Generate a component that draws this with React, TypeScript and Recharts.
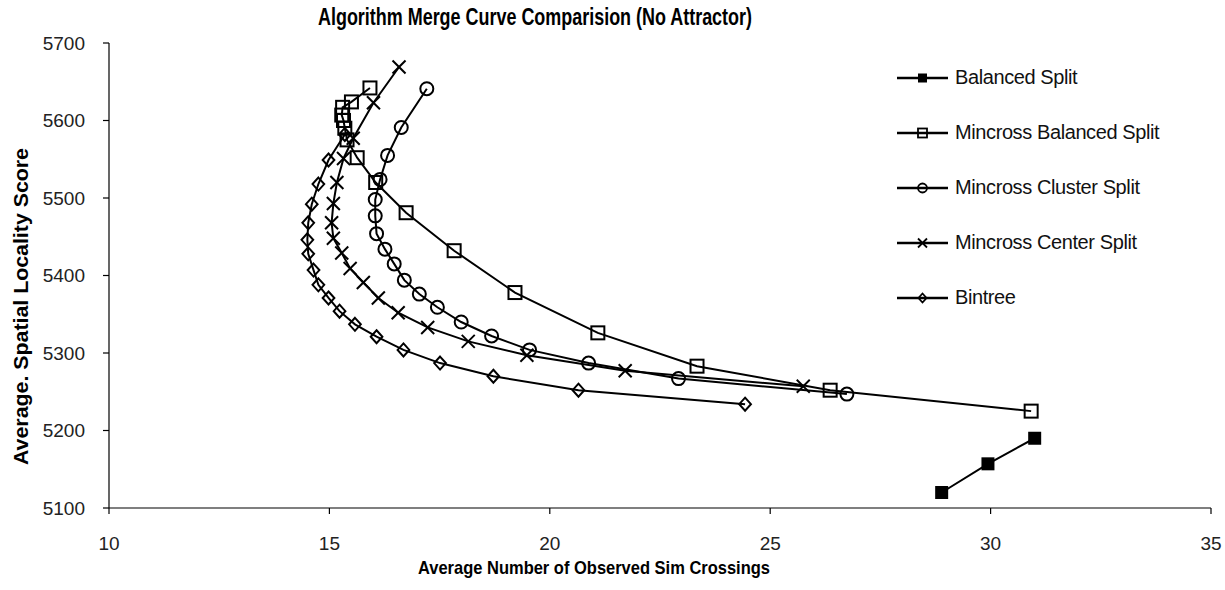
import React from 'react';
import { ScatterChart, Scatter, XAxis, YAxis, Legend } from 'recharts';

const chartTitle = 'Algorithm Merge Curve Comparision (No Attractor)';
const xAxisTitle = 'Average Number of Observed Sim Crossings';
const yAxisTitle = 'Average. Spatial Locality Score';

const xTicks = [10, 15, 20, 25, 30, 35];
const yTicks = [5100, 5200, 5300, 5400, 5500, 5600, 5700];

const seriesNames = [
  'Balanced Split',
  'Mincross Balanced Split',
  'Mincross Cluster Split',
  'Mincross Center Split',
  'Bintree',
];

const balancedX = [28.89, 29.94, 31.0];
const balancedY = [5120, 5157, 5190];

const mincrossBalancedX = [15.92, 15.5, 15.3, 15.28, 15.32, 15.35, 15.4, 15.63, 16.05, 16.74, 17.83, 19.21, 21.09, 23.34, 26.36, 30.92];
const mincrossBalancedY = [5642, 5624, 5617, 5607, 5600, 5590, 5575, 5552, 5520, 5481, 5432, 5378, 5326, 5283, 5252, 5225];

const clusterX = [17.21, 16.63, 16.32, 16.15, 16.04, 16.04, 16.07, 16.26, 16.47, 16.7, 17.04, 17.45, 17.99, 18.68, 19.54, 20.88, 22.92, 26.74];
const clusterY = [5641, 5591, 5555, 5524, 5498, 5477, 5454, 5434, 5415, 5394, 5376, 5359, 5340, 5322, 5304, 5287, 5267, 5247];

const centerX = [16.58, 16.0, 15.54, 15.32, 15.17, 15.09, 15.05, 15.09, 15.28, 15.47, 15.77, 16.11, 16.56, 17.23, 18.15, 19.48, 21.71, 25.75];
const centerY = [5669, 5623, 5577, 5551, 5520, 5493, 5468, 5448, 5429, 5409, 5391, 5371, 5352, 5333, 5315, 5297, 5277, 5257];

const bintreeX = [15.35, 14.98, 14.75, 14.6, 14.52, 14.5, 14.52, 14.64, 14.75, 14.98, 15.23, 15.58, 16.07, 16.68, 17.51, 18.72, 20.65, 24.43];
const bintreeY = [5582, 5549, 5518, 5492, 5468, 5446, 5428, 5407, 5388, 5371, 5354, 5337, 5321, 5304, 5287, 5270, 5252, 5234];

const zip = (xs: number[], ys: number[]) => xs.map((x, i) => ({ x, y: ys[i] }));

type MarkerKind = 'filledSquare' | 'square' | 'circle' | 'cross' | 'diamond';
const markerKinds: MarkerKind[] = ['filledSquare', 'square', 'circle', 'cross', 'diamond'];

const seriesData = [
  zip(balancedX, balancedY),
  zip(mincrossBalancedX, mincrossBalancedY),
  zip(clusterX, clusterY),
  zip(centerX, centerY),
  zip(bintreeX, bintreeY),
];

function Marker({ kind, cx, cy, s }: { kind: MarkerKind; cx: number; cy: number; s: number }) {
  const h = s / 2;
  const sw = s > 9 ? 2 : 1.8;
  switch (kind) {
    case 'filledSquare':
      return <rect x={cx - h} y={cy - h} width={s} height={s} fill="#000" />;
    case 'square':
      return <rect x={cx - h} y={cy - h} width={s} height={s} fill="none" stroke="#000" strokeWidth={sw} />;
    case 'circle':
      return <circle cx={cx} cy={cy} r={h} fill="none" stroke="#000" strokeWidth={sw} />;
    case 'cross':
      return (
        <g stroke="#000" strokeWidth={sw}>
          <line x1={cx - h} y1={cy - h} x2={cx + h} y2={cy + h} />
          <line x1={cx - h} y1={cy + h} x2={cx + h} y2={cy - h} />
        </g>
      );
    case 'diamond':
    default:
      return (
        <polygon
          points={`${cx},${cy - h} ${cx + h * 0.9},${cy} ${cx},${cy + h} ${cx - h * 0.9},${cy}`}
          fill="none"
          stroke="#000"
          strokeWidth={sw}
        />
      );
  }
}

const makeShape = (kind: MarkerKind) => (props: any) => {
  const { cx, cy } = props;
  if (cx == null || cy == null) return <g />;
  return <Marker kind={kind} cx={cx} cy={cy} s={13} />;
};

const LegendContent = (props: any) => {
  const payload = [...(props.payload || [])].sort(
    (a: any, b: any) => seriesNames.indexOf(a.value) - seriesNames.indexOf(b.value)
  );
  return (
    <div style={{ fontFamily: '"Liberation Sans", Arial, sans-serif', fontSize: 20, color: '#111' }}>
      {payload.map((entry: any, i: number) => {
        const idx = seriesNames.indexOf(entry.value);
        const kind = markerKinds[idx >= 0 ? idx : i];
        return (
          <div key={entry.value} style={{ display: 'flex', alignItems: 'center', height: 55 }}>
            <svg width={58} height={20} style={{ display: 'block' }}>
              <line x1={0} y1={10} x2={51} y2={10} stroke="#000" strokeWidth={2.5} />
              <Marker kind={kind} cx={25.5} cy={10} s={9} />
            </svg>
            <span style={{ whiteSpace: 'nowrap', letterSpacing: -0.4 }}>{entry.value}</span>
          </div>
        );
      })}
    </div>
  );
};

export default function App() {
  return (
    <div style={{ position: 'absolute', left: 0, top: 0, width: 1225, height: 590, background: '#fff' }}>
      <svg width={1225} height={40} style={{ position: 'absolute', left: 0, top: 0, zIndex: 2 }}>
        <text
          x={318}
          y={25}
          fontFamily='"Liberation Sans", Arial, sans-serif'
          fontWeight="bold"
          fontSize={24}
          textLength={434}
          lengthAdjust="spacingAndGlyphs"
          fill="#000"
        >
          {chartTitle}
        </text>
      </svg>
      <ScatterChart width={1225} height={590} margin={{ top: 43, right: 14, bottom: 0, left: 0 }}>
        <XAxis
          type="number"
          dataKey="x"
          domain={[10, 35]}
          ticks={xTicks}
          allowDataOverflow
          height={82}
          tickSize={6}
          tickMargin={23}
          axisLine={{ stroke: '#000', strokeWidth: 1.2 }}
          tickLine={{ stroke: '#000', strokeWidth: 1.2 }}
          tick={{ fill: '#222', fontSize: 19, fontFamily: '"Liberation Sans", Arial, sans-serif' }}
          label={() => (
            <text
              x={418}
              y={574}
              fontFamily='"Liberation Sans", Arial, sans-serif'
              fontWeight="bold"
              fontSize={19}
              textLength={352}
              lengthAdjust="spacingAndGlyphs"
              fill="#000"
            >
              {xAxisTitle}
            </text>
          )}
        />
        <YAxis
          type="number"
          dataKey="y"
          domain={[5100, 5700]}
          ticks={yTicks}
          allowDataOverflow
          width={109}
          tickSize={6}
          tickMargin={18}
          axisLine={{ stroke: '#000', strokeWidth: 1.2 }}
          tickLine={{ stroke: '#000', strokeWidth: 1.2 }}
          tick={{ fill: '#222', fontSize: 19, fontFamily: '"Liberation Sans", Arial, sans-serif' }}
          label={() => (
            <text
              x={28}
              y={465}
              transform="rotate(-90 28 465)"
              fontFamily='"Liberation Sans", Arial, sans-serif'
              fontWeight="bold"
              fontSize={20}
              textLength={317}
              lengthAdjust="spacingAndGlyphs"
              fill="#000"
            >
              {yAxisTitle}
            </text>
          )}
        />
        <Legend
          layout="horizontal"
          verticalAlign="middle"
          align="center"
          width={320}
          wrapperStyle={{ left: 897, top: 50, width: 320 }}
          content={LegendContent}
        />
        {seriesNames.map((name, i) => (
          <Scatter
            key={name}
            name={name}
            data={seriesData[i]}
            fill="#000"
            line={{ stroke: '#000', strokeWidth: 2 }}
            lineType="joint"
            shape={makeShape(markerKinds[i])}
            isAnimationActive={false}
          />
        ))}
      </ScatterChart>
    </div>
  );
}
